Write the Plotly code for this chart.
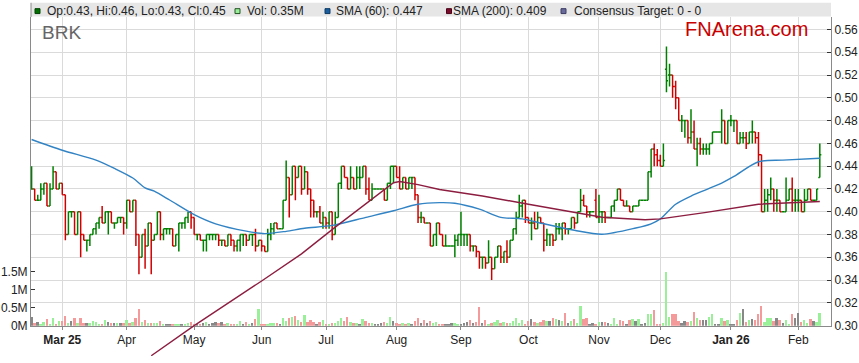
import plotly.graph_objects as go
import pandas as pd

# ---------------- data ----------------
dates = pd.bdate_range("2025-02-17", "2026-02-11")  # weekday bars

opens = [0.42,0.42,0.41,0.41,0.42,0.425,0.405,0.42,0.435,0.42,0.425,0.415,0.38,0.40,0.40,0.38,0.40,0.38,0.375,0.375,
0.38,0.385,0.39,0.395,0.39,0.40,0.40,0.39,0.39,0.395,0.395,0.39,0.41,0.40,0.41,0.38,0.36,0.38,0.37,0.39,
0.375,0.38,0.40,0.38,0.385,0.385,0.385,0.37,0.38,0.39,0.39,0.395,0.40,0.395,0.38,0.38,0.375,0.375,0.38,0.38,
0.38,0.38,0.375,0.375,0.37,0.38,0.375,0.37,0.375,0.38,0.38,0.375,0.38,0.38,0.37,0.375,0.37,0.365,0.38,0.385,
0.39,0.385,0.385,0.41,0.43,0.415,0.44,0.43,0.44,0.42,0.435,0.42,0.41,0.40,0.40,0.39,0.395,0.39,0.40,0.38,
0.395,0.425,0.44,0.43,0.42,0.43,0.42,0.43,0.43,0.44,0.42,0.41,0.42,0.42,0.42,0.42,0.41,0.425,0.44,0.44,
0.43,0.42,0.43,0.42,0.43,0.43,0.415,0.395,0.395,0.39,0.39,0.37,0.38,0.39,0.38,0.37,0.37,0.37,0.37,0.375,
0.38,0.38,0.38,0.38,0.37,0.37,0.365,0.36,0.36,0.355,0.36,0.35,0.36,0.37,0.36,0.365,0.36,0.375,0.385,0.395,
0.405,0.41,0.395,0.39,0.39,0.385,0.395,0.39,0.375,0.38,0.38,0.375,0.385,0.385,0.39,0.385,0.385,0.395,0.39,0.40,
0.41,0.405,0.40,0.40,0.41,0.395,0.40,0.40,0.395,0.395,0.405,0.41,0.42,0.41,0.405,0.405,0.40,0.405,0.405,0.41,
0.41,0.41,0.435,0.455,0.45,0.445,0.44,0.525,0.52,0.52,0.51,0.50,0.48,0.48,0.48,0.465,0.47,0.455,0.46,0.455,
0.455,0.455,0.46,0.47,0.47,0.47,0.48,0.46,0.48,0.48,0.48,0.46,0.465,0.465,0.46,0.47,0.47,0.465,0.45,0.40,
0.41,0.415,0.42,0.41,0.41,0.40,0.40,0.41,0.42,0.41,0.41,0.41,0.40,0.41,0.42,0.41,0.41,0.43]
highs = [0.44,0.42,0.415,0.425,0.425,0.425,0.425,0.44,0.435,0.425,0.425,0.415,0.40,0.40,0.40,0.40,0.40,0.38,0.375,0.38,
0.385,0.39,0.395,0.405,0.40,0.40,0.40,0.39,0.395,0.395,0.395,0.41,0.41,0.41,0.41,0.38,0.38,0.385,0.39,0.39,
0.38,0.40,0.40,0.385,0.385,0.385,0.385,0.38,0.39,0.39,0.395,0.40,0.40,0.395,0.38,0.38,0.375,0.38,0.38,0.38,
0.38,0.38,0.375,0.375,0.38,0.38,0.375,0.375,0.38,0.38,0.38,0.38,0.38,0.385,0.375,0.375,0.37,0.385,0.39,0.39,
0.39,0.385,0.41,0.445,0.43,0.44,0.44,0.44,0.44,0.44,0.435,0.42,0.41,0.40,0.405,0.40,0.395,0.40,0.40,0.40,
0.425,0.44,0.44,0.43,0.44,0.43,0.44,0.44,0.44,0.44,0.43,0.425,0.42,0.42,0.42,0.42,0.425,0.44,0.44,0.44,
0.44,0.43,0.43,0.43,0.43,0.43,0.415,0.40,0.395,0.39,0.39,0.38,0.39,0.39,0.38,0.38,0.37,0.37,0.38,0.38,
0.40,0.38,0.38,0.38,0.37,0.37,0.365,0.36,0.36,0.375,0.36,0.36,0.37,0.37,0.365,0.375,0.375,0.385,0.40,0.415,
0.41,0.41,0.395,0.395,0.40,0.40,0.395,0.39,0.385,0.38,0.38,0.39,0.39,0.39,0.39,0.385,0.395,0.395,0.40,0.42,
0.415,0.405,0.40,0.40,0.42,0.415,0.40,0.40,0.395,0.405,0.41,0.42,0.42,0.41,0.41,0.405,0.405,0.405,0.41,0.41,
0.41,0.435,0.455,0.46,0.455,0.45,0.46,0.545,0.53,0.52,0.515,0.50,0.485,0.48,0.48,0.49,0.48,0.465,0.465,0.46,
0.46,0.46,0.47,0.47,0.47,0.49,0.48,0.48,0.485,0.48,0.48,0.47,0.47,0.47,0.47,0.48,0.47,0.47,0.45,0.42,
0.42,0.43,0.42,0.42,0.41,0.40,0.43,0.42,0.43,0.42,0.42,0.41,0.42,0.42,0.42,0.41,0.42,0.46]
lows = [0.42,0.41,0.41,0.41,0.415,0.405,0.405,0.42,0.42,0.42,0.415,0.375,0.38,0.395,0.38,0.38,0.36,0.375,0.365,0.37,
0.38,0.38,0.385,0.39,0.39,0.38,0.39,0.385,0.39,0.39,0.38,0.385,0.40,0.40,0.37,0.345,0.36,0.35,0.37,0.345,
0.375,0.38,0.375,0.375,0.38,0.38,0.37,0.37,0.365,0.385,0.385,0.39,0.385,0.38,0.375,0.375,0.365,0.365,0.375,0.375,
0.375,0.37,0.37,0.37,0.37,0.37,0.365,0.365,0.365,0.37,0.37,0.375,0.37,0.365,0.37,0.365,0.365,0.365,0.375,0.38,
0.385,0.385,0.385,0.41,0.395,0.415,0.41,0.43,0.415,0.42,0.415,0.395,0.395,0.395,0.39,0.385,0.385,0.385,0.375,0.38,
0.395,0.42,0.43,0.42,0.42,0.42,0.42,0.42,0.43,0.415,0.41,0.41,0.42,0.42,0.42,0.41,0.41,0.42,0.425,0.43,
0.42,0.42,0.42,0.42,0.42,0.41,0.39,0.39,0.39,0.39,0.37,0.37,0.37,0.38,0.37,0.37,0.37,0.37,0.36,0.37,
0.37,0.37,0.37,0.365,0.365,0.36,0.35,0.35,0.35,0.355,0.34,0.35,0.36,0.355,0.355,0.355,0.36,0.375,0.38,0.395,
0.395,0.39,0.39,0.375,0.385,0.385,0.39,0.365,0.37,0.37,0.37,0.375,0.38,0.375,0.38,0.38,0.385,0.385,0.39,0.40,
0.405,0.395,0.395,0.40,0.395,0.39,0.39,0.39,0.395,0.395,0.40,0.41,0.41,0.405,0.405,0.40,0.40,0.405,0.405,0.41,
0.41,0.41,0.43,0.44,0.44,0.44,0.44,0.505,0.51,0.50,0.49,0.48,0.47,0.465,0.46,0.46,0.455,0.44,0.45,0.45,
0.45,0.45,0.46,0.47,0.47,0.46,0.46,0.46,0.475,0.47,0.46,0.46,0.46,0.455,0.46,0.46,0.46,0.44,0.40,0.40,
0.40,0.41,0.40,0.40,0.40,0.40,0.40,0.41,0.40,0.40,0.40,0.40,0.40,0.41,0.41,0.41,0.41,0.43]
closes = [0.42,0.41,0.41,0.42,0.425,0.405,0.42,0.435,0.42,0.425,0.415,0.38,0.40,0.40,0.38,0.40,0.38,0.375,0.375,0.38,
0.385,0.39,0.395,0.39,0.40,0.40,0.39,0.39,0.395,0.395,0.39,0.41,0.40,0.41,0.38,0.36,0.38,0.37,0.39,0.375,
0.38,0.40,0.38,0.385,0.385,0.385,0.37,0.38,0.39,0.39,0.395,0.40,0.395,0.38,0.38,0.375,0.375,0.38,0.38,0.38,
0.38,0.375,0.375,0.37,0.38,0.375,0.37,0.375,0.38,0.38,0.375,0.38,0.38,0.37,0.375,0.37,0.365,0.38,0.385,0.39,
0.385,0.385,0.41,0.43,0.415,0.44,0.43,0.44,0.42,0.435,0.42,0.41,0.40,0.40,0.39,0.395,0.39,0.40,0.38,0.395,
0.425,0.44,0.43,0.42,0.43,0.42,0.43,0.43,0.44,0.42,0.41,0.42,0.42,0.42,0.42,0.41,0.425,0.44,0.44,0.43,
0.42,0.43,0.42,0.43,0.43,0.415,0.395,0.395,0.39,0.39,0.37,0.38,0.39,0.38,0.37,0.37,0.37,0.37,0.375,0.38,
0.38,0.38,0.38,0.37,0.37,0.365,0.36,0.36,0.355,0.36,0.35,0.36,0.37,0.36,0.365,0.36,0.375,0.385,0.395,0.405,
0.41,0.395,0.39,0.39,0.385,0.395,0.39,0.375,0.38,0.38,0.375,0.385,0.385,0.39,0.385,0.385,0.395,0.39,0.40,0.41,
0.405,0.40,0.40,0.40,0.395,0.40,0.40,0.395,0.395,0.405,0.41,0.42,0.41,0.405,0.405,0.40,0.405,0.405,0.41,0.41,
0.41,0.435,0.455,0.45,0.445,0.44,0.445,0.515,0.52,0.51,0.50,0.48,0.48,0.48,0.465,0.47,0.455,0.46,0.455,0.455,
0.455,0.46,0.47,0.47,0.47,0.48,0.46,0.48,0.48,0.48,0.46,0.465,0.465,0.46,0.47,0.47,0.465,0.45,0.40,0.41,
0.415,0.42,0.41,0.41,0.40,0.40,0.41,0.42,0.41,0.41,0.41,0.40,0.41,0.42,0.41,0.41,0.42,0.45]
volume_m = [0.25,0.06,0.10,0.04,0.10,0.18,0.05,0.20,0.03,0.12,0.12,0.28,0.08,0.14,0.22,0.06,0.22,0.08,0.08,0.06,
0.13,0.10,0.04,0.04,0.15,0.10,0.06,0.08,0.06,0.07,0.06,0.15,0.06,0.10,0.20,0.46,0.09,0.17,0.07,0.06,
0.07,0.07,0.14,0.05,0.05,0.03,0.04,0.02,0.04,0.02,0.03,0.06,0.10,0.05,0.03,0.04,0.08,0.10,0.05,0.07,
0.10,0.06,0.10,0.04,0.08,0.05,0.04,0.04,0.13,0.05,0.09,0.04,0.07,0.19,0.46,0.04,0.03,0.05,0.06,0.07,
0.08,0.04,0.20,0.13,0.20,0.25,0.28,0.15,0.10,0.30,0.10,0.16,0.10,0.05,0.10,0.16,0.05,0.04,0.07,0.07,
0.13,0.22,0.13,0.25,0.10,0.06,0.07,0.04,0.19,0.13,0.07,0.07,0.04,0.05,0.06,0.10,0.07,0.25,0.13,0.06,
0.04,0.07,0.05,0.07,0.03,0.13,0.22,0.06,0.15,0.07,0.13,0.07,0.10,0.05,0.04,0.03,0.05,0.07,0.07,0.03,
0.05,0.07,0.10,0.15,0.07,0.10,0.53,0.07,0.16,0.05,0.07,0.10,0.16,0.07,0.10,0.07,0.07,0.13,0.22,0.07,
0.16,0.05,0.13,0.19,0.10,0.07,0.10,0.15,0.13,0.13,0.22,0.19,0.16,0.13,0.35,0.07,0.13,0.19,0.07,0.55,
0.19,0.22,0.04,0.07,0.04,0.10,0.10,0.10,0.07,0.05,0.22,0.05,0.15,0.13,0.05,0.16,0.19,0.13,0.19,0.04,
0.07,0.31,0.33,0.44,0.04,0.04,0.07,1.50,0.25,0.33,0.33,0.13,0.07,0.13,0.09,0.13,0.37,0.22,0.16,0.16,
0.16,0.24,0.33,0.05,0.03,0.22,0.13,0.15,0.03,0.04,0.15,0.35,0.46,0.09,0.15,0.19,0.16,0.31,0.55,0.09,
0.22,0.22,0.13,0.22,0.15,0.07,0.16,0.04,0.31,0.22,0.35,0.10,0.16,0.07,0.19,0.13,0.10,0.35]

sma60_idx = [0,10,21,27,33,37,40,45,53,60,70,76,83,89,98,109,118,126,133,138,146,153,160,167,177,186,197,202,205,210,215,220,225,229,237,245,257]
sma60_val = [0.4634,0.454,0.4453,0.438,0.4296,0.421,0.418,0.4103,0.3975,0.3894,0.383,0.3808,0.3828,0.3855,0.388,0.3951,0.4009,0.4066,0.408,0.4075,0.4023,0.3951,0.3937,0.3894,0.3837,0.3802,0.3857,0.3894,0.3937,0.4066,0.4138,0.4195,0.4252,0.431,0.4439,0.4453,0.447]
sma200_idx = [39,53,75,88,99,118,120,126,133,147,162,177,186,200,205,220,237,257]
sma200_val = [0.2736,0.30,0.3392,0.363,0.3865,0.4255,0.4265,0.4238,0.4195,0.4138,0.4066,0.3994,0.3952,0.393,0.3937,0.3994,0.4066,0.409]

month_labels = ["<b>Mar 25</b>","Apr","May","Jun","Jul","Aug","Sep","Oct","Nov","Dec","<b>Jan 26</b>","Feb"]

# ---------------- derived ----------------
n = len(closes)
idx = list(range(n))
prev = [closes[0]] + closes[:-1]
up = [c >= p for c, p in zip(closes, prev)]
vcol = []
for c, p in zip(closes, prev):
    vcol.append("#99f099" if c > p else ("#f59a9a" if c < p else "#888888"))

ser = pd.Series(idx, index=dates[:n])
month_ticks = [int(g.iloc[0]) for _, g in ser.groupby([ser.index.year, ser.index.month])][1:]

GREEN, RED = "#008000", "#d00000"
FONT = "Liberation Sans, Arial, sans-serif"

fig = go.Figure()
for flag, col in ((True, GREEN), (False, RED)):
    sel = [i for i in idx if up[i] == flag]
    fig.add_trace(go.Ohlc(
        x=sel, open=[opens[i] for i in sel], high=[highs[i] for i in sel],
        low=[lows[i] for i in sel], close=[closes[i] for i in sel],
        increasing=dict(line=dict(color=col, width=1.5)),
        decreasing=dict(line=dict(color=col, width=1.5)),
        tickwidth=0.5, hoverinfo="skip", showlegend=False,
        xaxis="x", yaxis="y"))

fig.add_trace(go.Bar(x=idx, y=volume_m, marker=dict(color=vcol, line=dict(width=0)),
                     width=0.62, yaxis="y3", xaxis="x", showlegend=False, hoverinfo="skip"))

fig.add_trace(go.Scatter(x=sma60_idx, y=sma60_val, mode="lines",
                         line=dict(color="#3283c4", width=1.4, shape="spline", smoothing=0.8),
                         xaxis="x", yaxis="y", showlegend=False, hoverinfo="skip"))
fig.add_trace(go.Scatter(x=sma200_idx, y=sma200_val, mode="lines",
                         line=dict(color="#8c1d40", width=1.4),
                         xaxis="x2", yaxis="y2", showlegend=False, hoverinfo="skip"))

# geometry (pixels)
W, H = 859, 363
L, R, T, B = 31, 831, 17, 363
axis_bottom = 332
pw, ph = R - L, B - T
def px(X): return (X - L) / pw
def py(Y): return (B - Y) / ph

y_scale = 1162.5            # px per price unit
p_top = 0.30 + (axis_bottom - T) / y_scale
p_bot2 = 0.30 - (B - axis_bottom) / y_scale
xr = [-0.2, 260.65]
vol_top = (axis_bottom - T) / 36.67

grid = "#dadada"
axc = "#8a8a8a"
fig.update_layout(
    width=W, height=H, margin=dict(l=L, r=W - R, t=T, b=0),
    paper_bgcolor="white", plot_bgcolor="rgba(0,0,0,0)",
    font=dict(family=FONT, size=12, color="#222"),
    showlegend=False, bargap=0,
    xaxis=dict(domain=[0, 1], range=xr, anchor="y", tickmode="array",
               tickvals=month_ticks, ticktext=month_labels, ticks="outside", ticklen=3,
               tickcolor=axc, showline=True, linecolor=axc, linewidth=1,
               showgrid=True, gridcolor=grid, gridwidth=1, zeroline=False,
               rangeslider=dict(visible=False), tickfont=dict(size=12, color="#222")),
    yaxis=dict(domain=[py(axis_bottom), 1], range=[0.30, p_top], side="right", anchor="x",
               tickmode="linear", tick0=0.30, dtick=0.02, tickformat=".2f",
               ticks="inside", ticklen=4, tickcolor="#333", showline=True, linecolor=axc,
               showgrid=True, gridcolor=grid, gridwidth=1, zeroline=False,
               tickfont=dict(size=12, color="#222")),
    yaxis3=dict(overlaying="y", side="left", range=[0, vol_top], tickmode="array",
                tickvals=[0, 0.5, 1, 1.5], ticktext=["0M", "0.5M", "1M", "1.5M"],
                ticks="inside", ticklen=4, tickcolor="#333", showline=True, linecolor=axc,
                showgrid=False, zeroline=False, tickfont=dict(size=12, color="#222")),
    xaxis2=dict(domain=[0, 1], range=xr, anchor="y2", visible=False, showgrid=False),
    yaxis2=dict(domain=[0, 1], range=[p_bot2, p_top], anchor="x2", visible=False, showgrid=False),
)

shapes = [
    dict(type="rect", xref="paper", yref="paper", x0=0, x1=1, y0=py(16.5), y1=py(2.5),
         fillcolor="#e6e6e6", line=dict(width=0), layer="below"),
    dict(type="line", xref="paper", yref="paper", x0=0, x1=0, y0=py(17), y1=py(2.5),
         line=dict(color=axc, width=1)),
]
legend_items = [
    (35, "#007000", "#004000", 46.5, "Op:0.43, Hi:0.46, Lo:0.43, Cl:0.45"),
    (235, "#99ee99", "#225522", 246.5, "Vol: 0.35M"),
    (325, "#1a5e9e", "#0c3a66", 336, "SMA (60): 0.447"),
    (446.5, "#7a0c2c", "#4a0418", 452.5, "SMA (200): 0.409"),
    (561, "#6a6a9a", "#3c3c66", 574, "Consensus Target: 0 - 0"),
]
ann = []
for sx, fc, lc, tx, txt in legend_items:
    shapes.append(dict(type="rect", xref="paper", yref="paper", x0=px(sx), x1=px(sx + 5),
                       y0=py(13.5), y1=py(8.5), fillcolor=fc, line=dict(color=lc, width=1)))
    ann.append(dict(xref="paper", yref="paper", x=px(tx - 2), y=py(10.5), xanchor="left",
                    yanchor="middle", text=txt, showarrow=False,
                    font=dict(family=FONT, size=12, color="#222")))
ann.append(dict(xref="paper", yref="paper", x=px(40), y=py(32.5), xanchor="left", yanchor="middle",
                text="BRK", showarrow=False, font=dict(family=FONT, size=19, color="#666666")))
ann.append(dict(xref="paper", yref="paper", x=px(810), y=py(29.5), xanchor="right", yanchor="middle",
                text="FNArena.com", showarrow=False, font=dict(family=FONT, size=20, color="#c80000")))
fig.update_layout(shapes=shapes, annotations=ann)

fig.write_html("out.html", config={"displayModeBar": False},
               post_script="document.body.style.margin='0px';document.body.style.overflow='hidden';")
